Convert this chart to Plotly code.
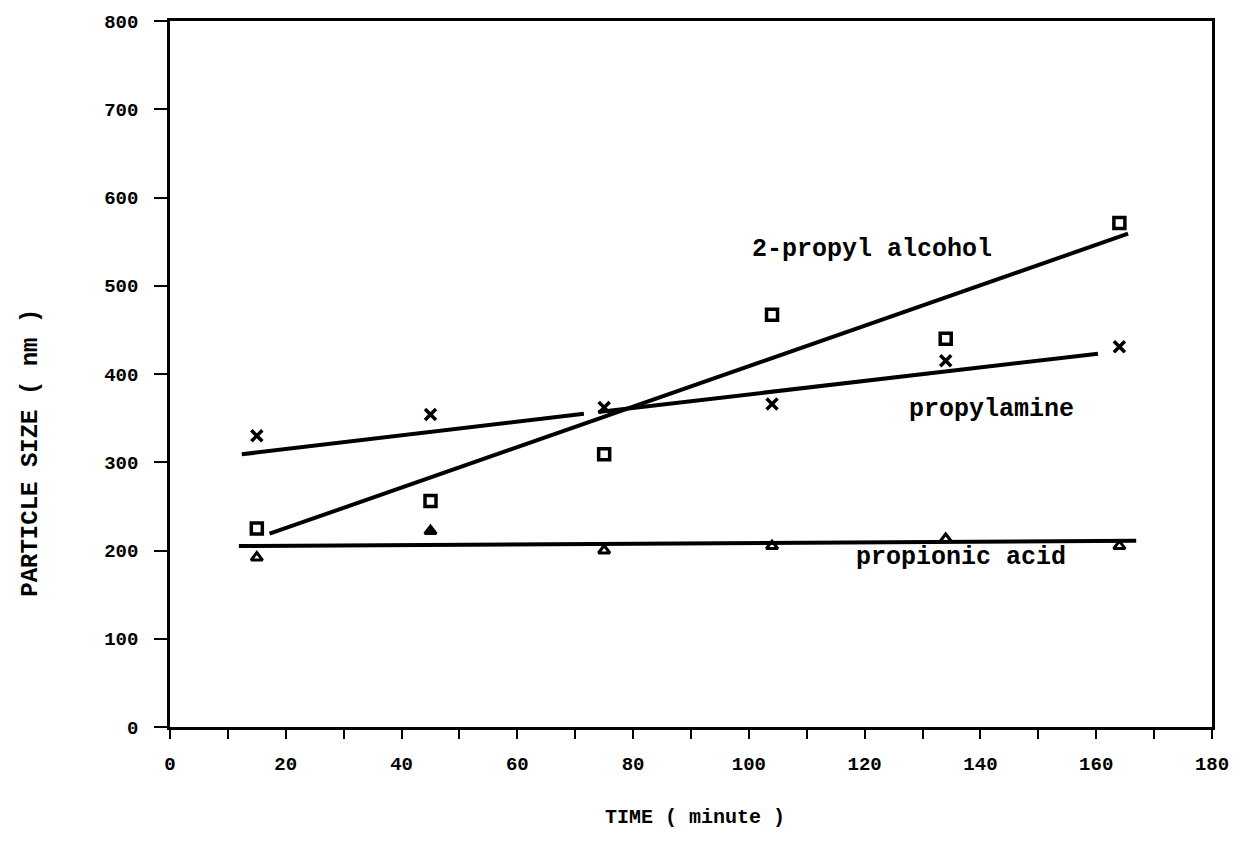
import plotly.graph_objects as go

# Measured particle sizes (nm) against reaction time (minutes)
time_min = [15, 45, 75, 104, 134, 164]
alcohol_nm = [225, 256, 309, 467, 440, 571]
amine_nm = [330, 354, 362, 366, 415, 431]
acid_nm = [192, 222, 200, 205, 213, 205]

# Straight-line fits drawn through each series
alcohol_fit_t = [17.2, 165.5]
alcohol_fit_nm = [219, 559]
amine_fit_t = [12.4, 71.5, None, 74.0, 160.3]
amine_fit_nm = [309, 355, None, 357, 423]
acid_fit_t = [11.9, 166.9]
acid_fit_nm = [205, 211]

acid_symbols = ["triangle-up-open", "triangle-up", "triangle-up-open",
                "triangle-up-open", "triangle-up-open", "triangle-up-open"]

x_ticks = list(range(0, 181, 10))
x_ticktext = [str(v) if v % 20 == 0 else "" for v in x_ticks]
y_ticks = list(range(0, 801, 100))

FONT = "Liberation Mono, Courier New, monospace"
INK = "black"

fig = go.Figure()

for t, v in [(alcohol_fit_t, alcohol_fit_nm), (amine_fit_t, amine_fit_nm), (acid_fit_t, acid_fit_nm)]:
    fig.add_trace(go.Scatter(x=t, y=v, mode="lines", line=dict(color=INK, width=4),
                             connectgaps=False, showlegend=False, hoverinfo="skip"))

fig.add_trace(go.Scatter(x=time_min, y=alcohol_nm, mode="markers", name="2-propyl alcohol",
                         marker=dict(symbol="square-open", size=11, color=INK,
                                     line=dict(color=INK, width=3.5)), showlegend=False))
fig.add_trace(go.Scatter(x=time_min, y=amine_nm, mode="markers", name="propylamine",
                         marker=dict(symbol="x-thin-open", size=11, color=INK,
                                     line=dict(color=INK, width=3.5)), showlegend=False))
fig.add_trace(go.Scatter(x=time_min, y=acid_nm, mode="markers", name="propionic acid",
                         marker=dict(symbol=acid_symbols, size=10, color=INK,
                                     line=dict(color=INK, width=3)), showlegend=False))

series_labels = [
    ("2-propyl alcohol", 121.2, 541),
    ("propylamine", 141.9, 360),
    ("propionic acid", 136.6, 192),
]
for text, x, y in series_labels:
    fig.add_annotation(x=x, y=y, xref="x", yref="y", text=text, showarrow=False,
                       font=dict(family=FONT, size=25, color=INK, weight="bold"),
                       xanchor="center", yanchor="middle")

fig.add_annotation(x=0.504, y=-0.128, xref="paper", yref="paper", text="TIME ( minute )",
                   showarrow=False, xanchor="center", yanchor="middle",
                   font=dict(family=FONT, size=20, color=INK, weight="bold"))
fig.add_annotation(x=-0.134, y=0.389, xref="paper", yref="paper", text="PARTICLE SIZE ( nm )",
                   showarrow=False, textangle=-90, xanchor="center", yanchor="middle",
                   font=dict(family=FONT, size=24, color=INK, weight="bold"))

axis_common = dict(showline=True, linecolor=INK, linewidth=2.5, mirror=True,
                   showgrid=False, zeroline=False, ticks="outside", tickcolor=INK,
                   tickwidth=2, tickfont=dict(family=FONT, size=19, color=INK, weight="bold"))

fig.update_xaxes(range=[0, 180], tickmode="array", tickvals=x_ticks, ticktext=x_ticktext,
                 ticklen=9, ticklabelstandoff=8, **axis_common)
fig.update_yaxes(range=[0, 800], tickmode="array", tickvals=y_ticks,
                 ticktext=[str(v) for v in y_ticks], ticklen=13, ticklabelstandoff=12,
                 **axis_common)

fig.update_layout(width=1243, height=863, paper_bgcolor="white", plot_bgcolor="white",
                  margin=dict(l=170, r=31, t=18, b=136))

fig.write_html("out.html")
